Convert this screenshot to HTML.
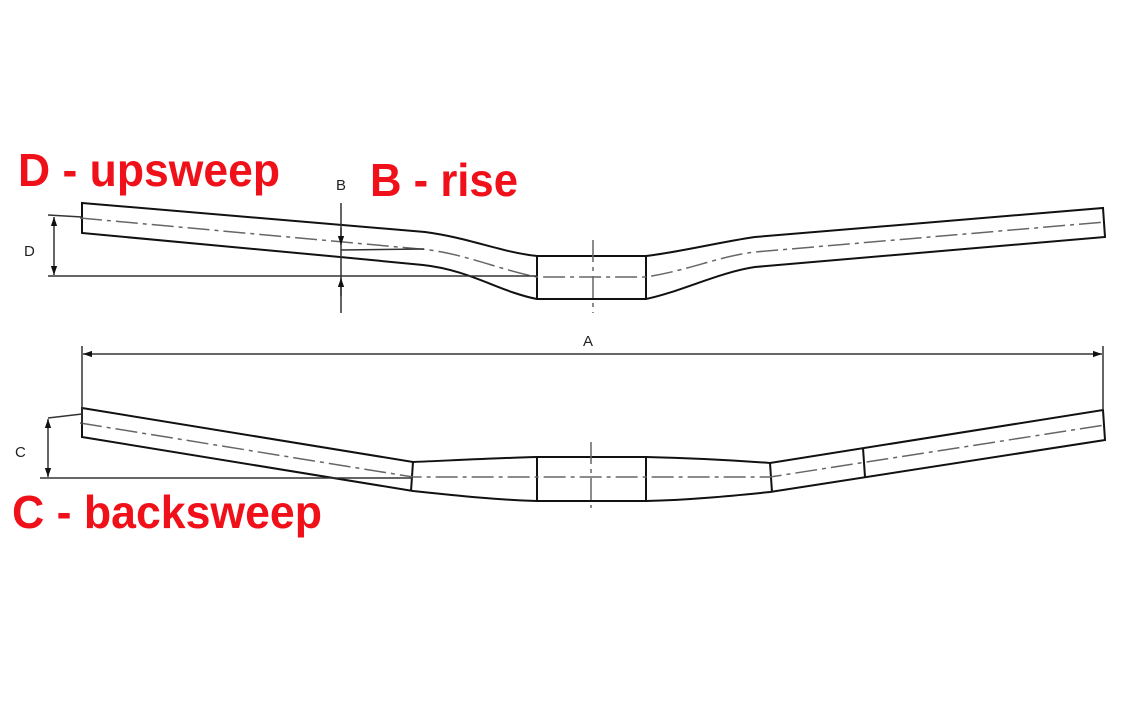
<!DOCTYPE html>
<html><head><meta charset="utf-8"><style>
html,body{margin:0;padding:0;background:#fff;}
svg{display:block;}
.r{font-family:"Liberation Sans",Arial,sans-serif;font-weight:bold;fill:#f0101a;font-size:46px;}
.k{font-family:"Liberation Sans",Arial,sans-serif;fill:#222;font-size:15px;}
</style></head><body>
<svg width="1134" height="709" viewBox="0 0 1134 709" xmlns="http://www.w3.org/2000/svg">
<defs>
<marker id="ah" viewBox="0 0 10 10" refX="10" refY="5" markerWidth="9" markerHeight="9" markerUnits="userSpaceOnUse" orient="auto-start-reverse"><path d="M0,1.5 L10,5 L0,8.5 z" fill="#111"/></marker>
</defs>
<g fill="none" stroke="#111" stroke-width="2">
<!-- top bar -->
<path d="M82,203 L425,232 C470,238 500,252 537,256 L646,256 C680,252 720,242 755,237 L1103,208 L1105,237 L755,267 C720,272 680,292 646,299 L537,299 C500,292 470,270 423,265 L340,257 L82,233 Z"/>
<line x1="537" y1="256" x2="537" y2="299"/>
<line x1="646" y1="256" x2="646" y2="299"/>
<!-- bottom bar -->
<path d="M82,408 L413,462 C460,460 500,458 537,457 L646,457 C690,458 730,460 770,463 L1103,410 L1105,440 L770,492 C730,496 690,500 646,501 L537,501 C500,500 460,496 413,491 L82,437 Z"/>
<line x1="413" y1="462" x2="411" y2="491"/>
<line x1="537" y1="457" x2="537" y2="501"/>
<line x1="646" y1="457" x2="646" y2="501"/>
<line x1="770" y1="463" x2="772" y2="492"/>
<line x1="863" y1="448" x2="865" y2="477"/>
</g>
<g fill="none" stroke="#666" stroke-width="1.5" stroke-dasharray="22,5,4,5">
<path d="M80,218 L420,249 C460,252 500,270 537,277 L646,277 C690,270 720,256 755,252 L1105,222"/>
<path d="M80,423 L413,477 L770,477 L1105,425"/>
<line x1="593" y1="240" x2="593" y2="313"/>
<line x1="591" y1="442" x2="591" y2="508"/>
</g>
<g fill="none" stroke="#333" stroke-width="1.5">
<line x1="48" y1="276" x2="537" y2="276"/>
<line x1="48" y1="215" x2="82" y2="217"/>
<line x1="54" y1="217" x2="54" y2="275" marker-start="url(#ah)" marker-end="url(#ah)"/>
<line x1="341" y1="203" x2="341" y2="313"/>
<line x1="341" y1="228" x2="341" y2="245" marker-end="url(#ah)"/>
<line x1="341" y1="296" x2="341" y2="278" marker-end="url(#ah)"/>
<line x1="341" y1="250" x2="424" y2="249"/>
<line x1="82" y1="346" x2="82" y2="425"/>
<line x1="1103" y1="346" x2="1103" y2="410"/>
<line x1="83" y1="354" x2="1102" y2="354" marker-start="url(#ah)" marker-end="url(#ah)"/>
<line x1="48" y1="418" x2="82" y2="414"/>
<line x1="40" y1="478" x2="413" y2="478"/>
<line x1="48" y1="419" x2="48" y2="477" marker-start="url(#ah)" marker-end="url(#ah)"/>
</g>
<text class="k" x="24" y="256">D</text>
<text class="k" x="336" y="190">B</text>
<text class="k" x="583" y="346">A</text>
<text class="k" x="15" y="457">C</text>
<text class="r" x="18" y="186" textLength="262" lengthAdjust="spacingAndGlyphs">D - upsweep</text>
<text class="r" x="370" y="196" textLength="148" lengthAdjust="spacingAndGlyphs">B - rise</text>
<text class="r" x="12" y="528" textLength="310" lengthAdjust="spacingAndGlyphs">C - backsweep</text>
</svg>
</body></html>
